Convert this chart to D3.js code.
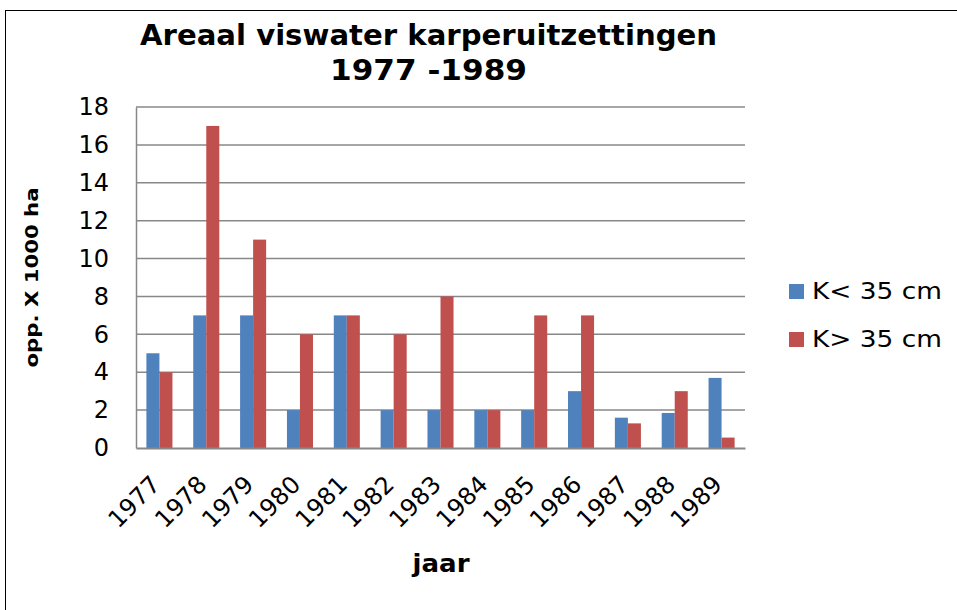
<!DOCTYPE html>
<html><head><meta charset="utf-8">
<script src="https://cdn.jsdelivr.net/npm/d3@7"></script>
<style>body{margin:0;background:#fff}</style>
</head><body>
<svg id="c" width="957" height="610"></svg>
<script>
const years = ["1977","1978","1979","1980","1981","1982","1983","1984","1985","1986","1987","1988","1989"];
const seriesNames = ["K< 35 cm","K> 35 cm"];
const small = [5,7,7,2,7,2,2,2,2,3,1.6,1.85,3.7];
const large = [4,17,11,6,7,6,8,2,7,7,1.3,3,0.55];
const yTicks = [0,2,4,6,8,10,12,14,16,18];
const colors = ["#4F81BD","#C0504D"];

(function(){
const svg = d3.select("#c");
const font = "DejaVu Sans, Verdana, sans-serif";
svg.append("rect").attr("x",5.5).attr("y",10.5).attr("width",1000).attr("height",1000)
  .attr("fill","#fff").attr("stroke","#000").attr("stroke-width",1);

const pL=136, pR=745, pT=107, pB=448;
const x = d3.scaleBand().domain(years).range([pL,pR]).paddingInner(0.444).paddingOuter(0.222);
const x1 = d3.scaleBand().domain([0,1]).range([0,x.bandwidth()]);
const y = d3.scaleLinear().domain([0,18]).range([pB,pT]);

// grid
svg.append("g").selectAll("line").data(yTicks.filter(d=>d>0)).join("line")
  .attr("x1",pL).attr("x2",pR).attr("y1",d=>y(d)).attr("y2",d=>y(d))
  .attr("stroke","#888").attr("stroke-width",1.5);

// bars
const data = years.map((yr,i)=>({yr, v:[small[i],large[i]]}));
const g = svg.append("g");
data.forEach(d=>{
  d.v.forEach((v,s)=>{
    g.append("rect").attr("x",x(d.yr)+x1(s)).attr("width",x1.bandwidth())
      .attr("y",y(v)).attr("height",y(0)-y(v)).attr("fill",colors[s]);
  });
});

// axes
const ya = svg.append("g").attr("transform",`translate(${pL},0)`)
  .call(d3.axisLeft(y).tickValues(yTicks).tickSize(0).tickPadding(27).tickFormat(d3.format("d")));
ya.select(".domain").attr("stroke","#888").attr("stroke-width",1.5);
ya.selectAll("text").attr("font-family",font).attr("font-size",24).attr("fill","#000");

const xa = svg.append("g").attr("transform",`translate(0,${pB})`)
  .call(d3.axisBottom(x).tickSize(0).tickPadding(0));
xa.select(".domain").attr("stroke","#888").attr("stroke-width",2);
xa.selectAll("text").attr("font-family",font).attr("font-size",24).attr("fill","#000")
  .attr("text-anchor","end").attr("dy",0).attr("y",0)
  .attr("transform","translate(2,38) rotate(-45)");

// titles
function txt(s, xx, yy, size, len, bold){
  return svg.append("text").attr("x",xx).attr("y",yy).attr("text-anchor","middle")
    .attr("font-family",font).attr("font-weight",bold?"bold":"normal").attr("font-size",size)
    .attr("textLength",len).attr("lengthAdjust","spacingAndGlyphs").text(s);
}
txt("Areaal viswater karperuitzettingen",428.5,45,28,577,true);
txt("1977 -1989",428.5,80,28,197,true);
txt("jaar",441,572,24,57,true);
svg.append("text").attr("transform","translate(38,277.5) rotate(-90)").attr("text-anchor","middle")
  .attr("font-family",font).attr("font-weight","bold").attr("font-size",17)
  .attr("textLength",180).attr("lengthAdjust","spacingAndGlyphs").text("opp. X 1000 ha");

// legend
const lg = svg.append("g");
seriesNames.forEach((n,i)=>{
  const cy = 291 + i*48;
  lg.append("rect").attr("x",789).attr("y",cy-7).attr("width",15).attr("height",15).attr("fill",colors[i]);
  lg.append("text").attr("x",812).attr("y",cy).attr("dy","0.35em")
    .attr("font-family",font).attr("font-size",23)
    .attr("textLength",130).attr("lengthAdjust","spacingAndGlyphs").text(n);
});
})();
</script>
</body></html>
